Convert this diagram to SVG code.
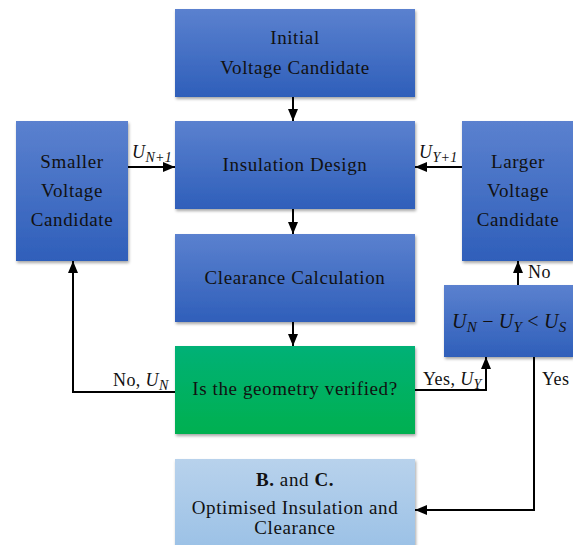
<svg xmlns="http://www.w3.org/2000/svg" width="573" height="545" viewBox="0 0 573 545">
  <defs>
    <linearGradient id="gBlue" x1="0" y1="0" x2="0" y2="1">
      <stop offset="0" stop-color="#5b81cf"/>
      <stop offset="1" stop-color="#2f5fba"/>
    </linearGradient>
    <linearGradient id="gGreen" x1="0" y1="0" x2="0" y2="1">
      <stop offset="0" stop-color="#00b176"/>
      <stop offset="1" stop-color="#00b050"/>
    </linearGradient>
    <linearGradient id="gLight" x1="0" y1="0" x2="0" y2="1">
      <stop offset="0" stop-color="#b8d2ec"/>
      <stop offset="1" stop-color="#9bc1e6"/>
    </linearGradient>
    <filter id="shadow" x="-10%" y="-10%" width="120%" height="125%">
      <feDropShadow dx="1" dy="2" stdDeviation="1.5" flood-color="#000" flood-opacity="0.35"/>
    </filter>
    <marker id="arrow" viewBox="0 0 12 10" refX="12" refY="5" markerWidth="12" markerHeight="10" markerUnits="userSpaceOnUse" orient="auto">
      <path d="M0,0 L12,5 L0,10 Z" fill="#000"/>
    </marker>
  </defs>
  <style>
    .box { filter: url(#shadow); }
    .blue { fill: url(#gBlue); }
    .green { fill: url(#gGreen); }
    .light { fill: url(#gLight); }
    text { font-family: "Liberation Serif", "DejaVu Serif", serif; font-size: 19px; letter-spacing: 0.6px; fill: #111; }
    .c { text-anchor: middle; }
    .m { font-style: italic; }
    .sub { font-size: 14px; letter-spacing: 0.3px; }
    .eq { font-size: 20px; letter-spacing: 0.2px; }
    .eq .sub { font-size: 15px; }
    .lbl { font-size: 18px; letter-spacing: 0.4px; }
    .edge { fill: none; stroke: #000; stroke-width: 2; }
  </style>

  <rect width="573" height="545" fill="#fff"/>

  <g id="initial">
    <rect class="box blue" x="175" y="9" width="240" height="88"/>
    <text class="c" x="295" y="44">Initial</text>
    <text class="c" x="295" y="74">Voltage Candidate</text>
  </g>

  <g id="insulation-design">
    <rect class="box blue" x="175" y="121" width="240" height="88"/>
    <text class="c" x="295" y="171">Insulation Design</text>
  </g>

  <g id="clearance-calculation">
    <rect class="box blue" x="175" y="234" width="240" height="88"/>
    <text class="c" x="295" y="284">Clearance Calculation</text>
  </g>

  <g id="geometry-check">
    <rect class="box green" x="175" y="346" width="240" height="88"/>
    <text class="c" x="295" y="395">Is the geometry verified?</text>
  </g>

  <g id="smaller-voltage">
    <rect class="box blue" x="16" y="121" width="112" height="140"/>
    <text class="c" x="72" y="168">Smaller</text>
    <text class="c" x="72" y="197">Voltage</text>
    <text class="c" x="72" y="226">Candidate</text>
  </g>

  <g id="larger-voltage">
    <rect class="box blue" x="462" y="121" width="111" height="140"/>
    <text class="c" x="518" y="168">Larger</text>
    <text class="c" x="518" y="197">Voltage</text>
    <text class="c" x="518" y="226">Candidate</text>
  </g>

  <g id="margin-check">
    <rect class="box blue" x="444" y="285" width="129" height="72"/>
    <text class="eq" x="452" y="328"><tspan class="m">U</tspan><tspan class="m sub" dy="4">N</tspan><tspan dy="-4"> − </tspan><tspan class="m">U</tspan><tspan class="m sub" dy="4">Y</tspan><tspan dy="-4"> &lt; </tspan><tspan class="m">U</tspan><tspan class="m sub" dy="4">S</tspan></text>
  </g>

  <g id="optimised-result">
    <rect class="box light" x="175" y="459" width="240" height="90"/>
    <text class="c" x="295" y="486"><tspan font-weight="bold">B.</tspan> and <tspan font-weight="bold">C.</tspan></text>
    <text class="c" x="295" y="514">Optimised Insulation and</text>
    <text class="c" x="295" y="534">Clearance</text>
  </g>

  <g id="connectors">
    <path class="edge" d="M293,97 V121" marker-end="url(#arrow)"/>
    <path class="edge" d="M293,209 V234" marker-end="url(#arrow)"/>
    <path class="edge" d="M293,322 V346" marker-end="url(#arrow)"/>
    <path class="edge" d="M128,167 H175" marker-end="url(#arrow)"/>
    <path class="edge" d="M462,167 H415" marker-end="url(#arrow)"/>
    <path class="edge" d="M175,392 H73 V261" marker-end="url(#arrow)"/>
    <path class="edge" d="M415,390 H486 V357" marker-end="url(#arrow)"/>
    <path class="edge" d="M518,285 V261" marker-end="url(#arrow)"/>
    <path class="edge" d="M534,357 V510 H415" marker-end="url(#arrow)"/>

    <text class="lbl" x="132" y="158"><tspan class="m">U</tspan><tspan class="m sub" dy="4">N+1</tspan></text>
    <text class="lbl" x="419" y="158"><tspan class="m">U</tspan><tspan class="m sub" dy="4">Y+1</tspan></text>
    <text class="lbl" x="113" y="386">No, <tspan class="m">U</tspan><tspan class="m sub" dy="4">N</tspan></text>
    <text class="lbl" x="423" y="385">Yes, <tspan class="m">U</tspan><tspan class="m sub" dy="4">Y</tspan></text>
    <text class="lbl" x="528" y="278">No</text>
    <text class="lbl" x="542" y="385">Yes</text>
  </g>
</svg>
